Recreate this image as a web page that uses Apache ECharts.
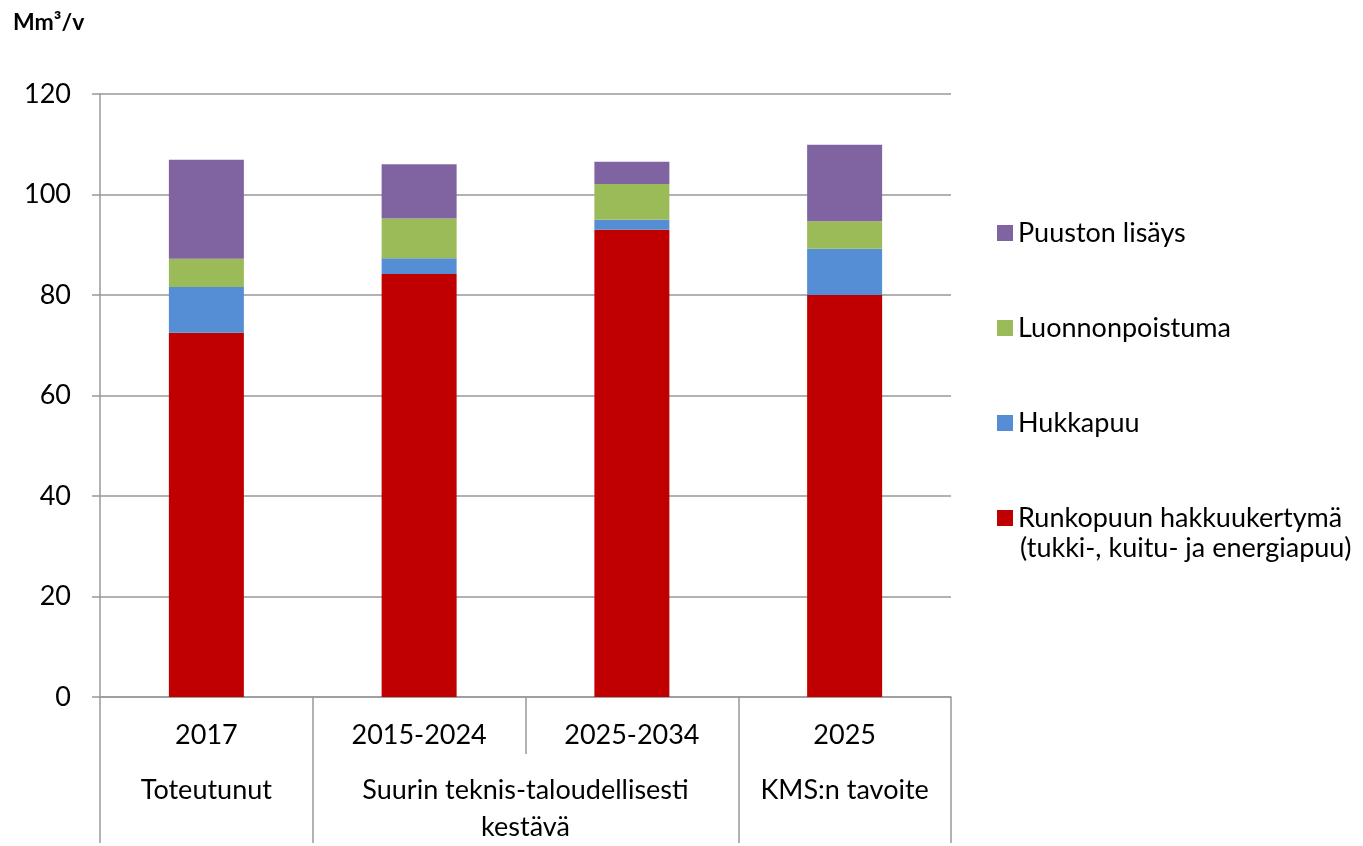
<!DOCTYPE html>
<html>
<head>
<meta charset="utf-8">
<script src="https://cdn.jsdelivr.net/npm/echarts@6/dist/echarts.min.js"></script>
<style>html,body{margin:0;padding:0;background:#fff}#c{width:1363px;height:846px}</style>
</head>
<body>
<div id="c"></div>
<script>
const categories = ['2017', '2015-2024', '2025-2034', '2025'];
const groupLabels = ['Toteutunut', 'Suurin teknis-taloudellisesti\nkestävä', 'KMS:n tavoite'];
const groupCenters = [0.5, 2, 3.5];
const groupBounds = [0, 1, 3, 4];
const yTicks = [0, 20, 40, 60, 80, 100, 120];

const seriesNames = ['Runkopuun hakkuukertymä (tukki-, kuitu- ja energiapuu)', 'Hukkapuu', 'Luonnonpoistuma', 'Puuston lisäys'];
const runkopuu = [72.5, 84.2, 93.0, 80.0];
const hukkapuu = [9.1, 3.1, 2.0, 9.2];
const luonnonpoistuma = [5.6, 7.9, 7.1, 5.5];
const puustonLisays = [19.7, 10.8, 4.4, 15.2];
const colors = ['#C00000', '#558ED5', '#9BBB59', '#8064A2'];

const FONT = 'Lato';
const AX = '#999999';
const FS = 27;

const chart = echarts.init(document.getElementById('c'), null, {renderer: 'canvas'});
const values = [runkopuu, hukkapuu, luonnonpoistuma, puustonLisays];

chart.setOption({
  animation: false,
  title: {
    text: 'Mm³/v', left: 8, top: 6,
    textStyle: {fontFamily: FONT, fontSize: 23, fontWeight: 'bold', color: '#000'}
  },
  grid: {left: 100, right: 412, top: 94, bottom: 146},
  legend: {
    orient: 'vertical', left: 992, top: 213, itemGap: 65,
    itemWidth: 16, itemHeight: 16, selectedMode: false,
    data: [seriesNames[3], seriesNames[2], seriesNames[1], seriesNames[0]].map(n => ({name: n, icon: 'rect'})),
    formatter: n => n === seriesNames[0] ? 'Runkopuun hakkuukertymä' : n,
    textStyle: {fontFamily: FONT, fontSize: FS, lineHeight: 30, color: '#000'}
  },
  graphic: [{
    type: 'text', left: 1020, top: 535,
    style: {text: '(tukki-, kuitu- ja energiapuu)', font: FS + 'px ' + FONT, fill: '#000'}
  }],
  xAxis: [{
    type: 'category', data: categories,
    axisLine: {show: true, lineStyle: {color: AX, width: 1.5}},
    axisTick: {show: true, alignWithLabel: false, length: 57, lineStyle: {color: AX, width: 1.5}},
    axisLabel: {fontFamily: FONT, fontSize: FS, color: '#000', margin: 25, interval: 0}
  }, {
    type: 'value', min: 0, max: 4, position: 'bottom',
    axisLine: {show: false},
    splitLine: {show: false},
    axisTick: {show: true, customValues: groupBounds, length: 146, lineStyle: {color: AX, width: 1.5}},
    axisLabel: {
      show: true, customValues: groupCenters, margin: 75,
      fontFamily: FONT, fontSize: FS, color: '#000', lineHeight: 37,
      formatter: v => { const i = groupCenters.indexOf(v); return i >= 0 ? groupLabels[i] : ''; }
    }
  }],
  yAxis: {
    type: 'value', min: 0, max: 120, interval: 20,
    axisLine: {show: true, lineStyle: {color: AX, width: 1.5}},
    axisTick: {show: true, length: 8, lineStyle: {color: AX, width: 1.5}},
    splitLine: {show: true, lineStyle: {color: AX, width: 1.5}},
    axisLabel: {fontFamily: FONT, fontSize: FS, color: '#000', margin: 29,
      formatter: v => yTicks.includes(v) ? String(v) : ''}
  },
  series: seriesNames.map((n, i) => ({
    name: n, type: 'bar', stack: 'total', xAxisIndex: 0,
    data: values[i], barWidth: 75,
    itemStyle: {color: colors[i]}
  }))
});
</script>
</body>
</html>
